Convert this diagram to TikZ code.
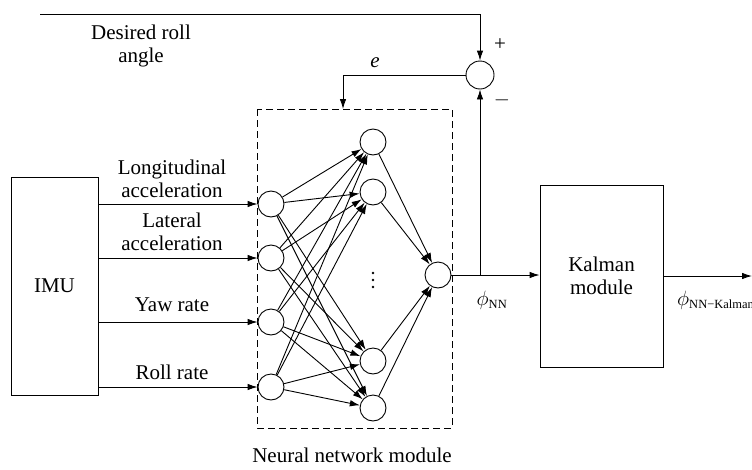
\documentclass[tikz,border=0pt]{standalone}
\usepackage{fontspec}
\setmainfont{Liberation Serif}
\usetikzlibrary{arrows.meta}
\newcommand{\subtxt}[1]{\mbox{\fontsize{12.5}{13}\selectfont #1}}
\begin{document}
\begin{tikzpicture}[x=1pt,y=-1pt,
  every node/.style={font=\fontsize{21}{23}\selectfont},
  neuron/.style={draw,circle,minimum size=26pt,inner sep=0pt,line width=0.9pt},
  sumnode/.style={draw,circle,minimum size=28pt,inner sep=0pt,line width=0.9pt},
  blockbox/.style={draw,line width=0.9pt,inner sep=0pt},
  arr/.style={-{Latex[length=10pt,width=6.5pt]},line width=0.9pt},
  ln/.style={line width=0.9pt},
  lbl/.style={align=center,inner sep=0pt},
  dotmark/.style={fill,circle,inner sep=0pt,minimum size=2.6pt}
]
\useasboundingbox (0,0) rectangle (752,469);
\clip (0,0) rectangle (752,469);
% boxes
\node[blockbox,minimum width=87pt,minimum height=218pt] (imu) at (54.5,286) {IMU};
\node[blockbox,minimum width=123pt,minimum height=182pt,align=center] (kal) at (601.5,276) {Kalman\\module};
\draw[ln,dash pattern=on 7pt off 4pt] (257,109) rectangle (452,428);
\coordinate (boxtop) at (343,109);
% neurons
\node[neuron] (i1) at (271,204) {};
\node[neuron] (i2) at (271,258) {};
\node[neuron] (i3) at (271,322) {};
\node[neuron] (i4) at (271,387) {};
\node[neuron] (h1) at (373,142) {};
\node[neuron] (h2) at (373,192) {};
\node[neuron] (h3) at (373,361) {};
\node[neuron] (h4) at (373,408) {};
\node[neuron] (o) at (438,275) {};
\node[dotmark] (d1) at (373,273) {};
\node[dotmark] (d2) at (373,280) {};
\node[dotmark] (d3) at (373,287) {};
\node[sumnode] (sum) at (480,75) {};
% input arrows
\foreach \k in {1,2,3,4}{
  \draw[arr] (imu.east |- i\k) -- (i\k);
}
% connections
\foreach \a in {1,2,3,4}{
  \foreach \b in {1,2,3,4}{
    \draw[arr] (i\a) -- (h\b);
  }
}
\foreach \b in {1,2,3,4}{
  \draw[arr] (h\b) -- (o);
}
% output and feedback
\coordinate (j) at (480,275);
\coordinate (src) at (40,14);
\coordinate (outend) at (752,276);
\draw[ln] (o) -- (j);
\draw[arr] (j) -- (kal.west |- j);
\draw[arr] (j) -- (sum);
\draw[arr] (src) -| (sum);
\draw[arr] (sum) -| (boxtop);
\draw[arr] (kal.east |- outend) -- (outend);
% labels
\node[lbl] (l1) at (172,179) {Longitudinal\\acceleration};
\node[lbl] (l2) at (172,232) {Lateral\\acceleration};
\node[lbl] (l3) at (172,305) {Yaw rate};
\node[lbl] (l4) at (172,372) {Roll rate};
\node[lbl] (dr) at (141,46) {Desired roll\\angle};
\node[lbl] (e) at (375,63) {\textit{e}};
\node[lbl] (plus) at (500,45) {+};
\node[lbl] (minus) at (502,100) {$-$};
\node[lbl] (pnn) at (492,300) {$\phi_{\subtxt{NN}}$};
\node[lbl,anchor=west] (pk) at (677,300) {$\phi_{\subtxt{NN−Kalman}}$};
\node[lbl] (nnm) at (352,455) {Neural network module};
\end{tikzpicture}
\end{document}
